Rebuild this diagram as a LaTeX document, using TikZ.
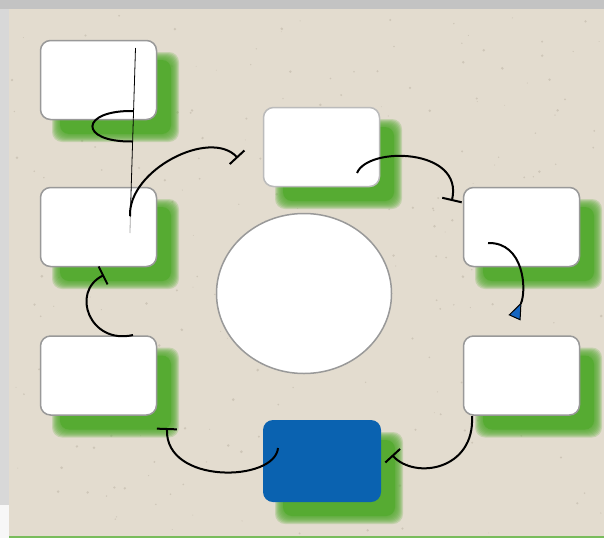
\documentclass[tikz,border=0pt]{standalone}
\usetikzlibrary{arrows.meta,calc,shapes.geometric}
\definecolor{bgbeige}{HTML}{E3DCCF}
\definecolor{leftgray}{HTML}{D8D8D8}
\definecolor{topgray}{HTML}{C3C3C3}
\definecolor{shadowgreen}{HTML}{56AB32}
\definecolor{boxblue}{HTML}{0A62B0}
\definecolor{bordergray}{HTML}{999999}
\definecolor{lightborder}{HTML}{BBBBBB}
\definecolor{speck}{HTML}{A89E8E}
\definecolor{tipblue}{HTML}{1565C0}
\newcommand\gshadow[4]{%
  \foreach \s in {5,4,3,2,1,0,-1,-2}{%
    \fill[shadowgreen,opacity=0.22,rounded corners=10pt]
      ({#1+17-#3-\s},{#2+17-#4-\s}) rectangle ({#1+17+#3+\s},{#2+17+#4+\s});}
  \fill[shadowgreen,rounded corners=9pt]
      ({#1+17-#3+3},{#2+17-#4+3}) rectangle ({#1+17+#3-3},{#2+17+#4-3});}
\begin{document}
\begin{tikzpicture}[x=1pt,y=-1pt,
  card/.style={draw=bordergray,line width=1.5pt,fill=white,rounded corners=10pt,
    minimum width=116pt,minimum height=79pt,inner sep=0pt},
  bluecard/.style={fill=boxblue,rounded corners=10pt,
    minimum width=118pt,minimum height=82pt,inner sep=0pt},
  hub/.style={ellipse,draw=bordergray,line width=1.5pt,fill=white,
    minimum width=175pt,minimum height=160pt,inner sep=0pt},
  link/.style={line width=2pt,black},
  barend/.style={-{Bar[width=20pt]}},
  triend/.style={-{Triangle[reversed,length=17pt,width=13pt,fill=tipblue,line width=1pt]}}
]
\useasboundingbox (0,0) rectangle (604,538);
% background
\fill[leftgray] (0,0) rectangle (604,538);
\fill[white!97!black] (0,505) rectangle (9,538);
\fill[topgray] (0,0) rectangle (604,9);
\fill[bgbeige] (9,9) rectangle (604,536);
\fill[shadowgreen!80!white] (9,536) rectangle (604,538);
\pgfmathsetseed{7}
\foreach \i in {1,...,260}{%
  \pgfmathsetmacro\px{12+rnd*590}%
  \pgfmathsetmacro\py{12+rnd*522}%
  \pgfmathsetmacro\pr{0.4+rnd*1.1}%
  \fill[speck,opacity=0.35] (\px,\py) circle (\pr pt);}
% shadows
\gshadow{98.5}{80}{58.5}{40}
\gshadow{98.5}{227}{58.5}{40}
\gshadow{98.5}{375.5}{58.5}{40}
\gshadow{321.5}{147}{58.5}{40}
\gshadow{521.5}{227}{58.5}{40}
\gshadow{521.5}{375.5}{58.5}{40}
\gshadow{322}{461}{59}{41}
% nodes
\node[card] (a) at (98.5,80) {};
\node[card] (b) at (98.5,227) {};
\node[card] (c) at (98.5,375.5) {};
\node[card,draw=lightborder] (d) at (321.5,147) {};
\node[card] (e) at (521.5,227) {};
\node[card] (f) at (521.5,375.5) {};
\node[bluecard] (g) at (322,461) {};
\node[hub] (o) at (304,293.5) {};
% connectors
\draw[line width=0.8pt,black] ($(a.center)+(37,-32)$) -- ($(b.center)+(31.8,-10)$);
\draw[line width=0.8pt,black!35] ($(b.center)+(31.8,-10)$) -- ($(b.center)+(31.5,6)$);
\draw[link] ($(a.center)+(35,31)$) .. controls (80,110) and (78,142) .. ($(a.center)+(33.5,61.5)$);
\draw[link,barend] ($(b.center)+(31.5,-11)$) .. controls (128,170) and (210,128) .. ($(d.west)+(-25,11)$);
\draw[link,barend] ($(d.center)+(35.5,26)$) .. controls (368,146) and (464,148) .. ($(e.west)+(-11,-26)$);
\draw[link,triend] ($(e.center)+(-33.5,16)$) .. controls (524,242) and (527,290) .. ($(f.north)+(-7,-17.5)$);
\draw[link,barend] ($(f.center)+(-49.5,40.5)$) .. controls (475,470) and (415,480) .. ($(g.center)+(70,-6)$);
\draw[link,barend] ($(g.center)+(-44,-13)$) .. controls (275,482) and (165,485) .. ($(c.center)+(68.5,52.5)$);
\draw[link,barend] ($(c.center)+(34.5,-40.5)$) .. controls (90,345) and (70,292) .. ($(b.center)+(5.5,48)$);
\end{tikzpicture}
\end{document}
